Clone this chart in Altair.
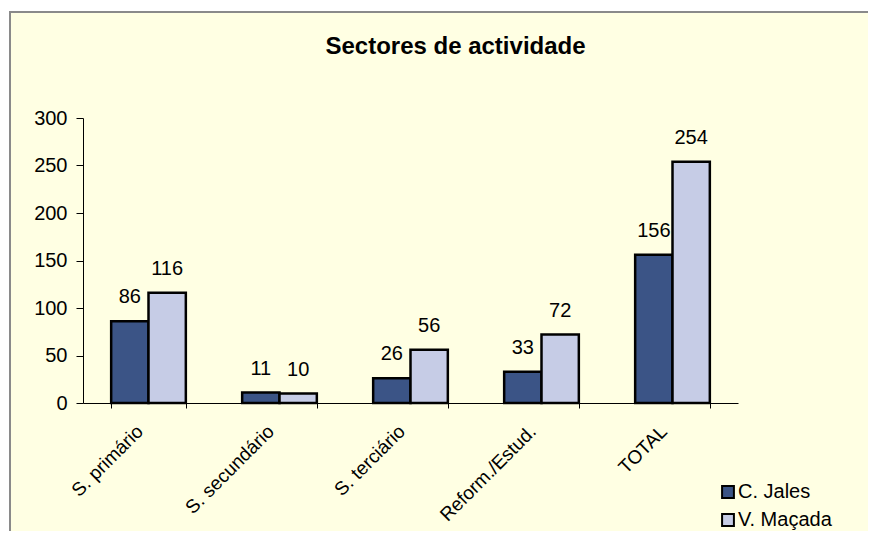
import altair as alt
import pandas as pd

categories = ["S. primário", "S. secundário", "S. terciário", "Reform./Estud.", "TOTAL"]
series = ["C. Jales", "V. Maçada"]
c_jales = [86, 11, 26, 33, 156]
v_macada = [116, 10, 56, 72, 254]
y_ticks = [0, 50, 100, 150, 200, 250, 300]

rows = []
for i, c in enumerate(categories):
    rows.append({"cat": c, "serie": series[0], "val": c_jales[i]})
    rows.append({"cat": c, "serie": series[1], "val": v_macada[i]})
df = pd.DataFrame(rows)

FONT = "Liberation Sans"
color_scale = alt.Scale(domain=series, range=["#3B5486", "#C6CCE6"])

frame = alt.Chart(pd.DataFrame({"a": [0]})).mark_rect(
    fill="#FFFFE3", stroke="#8A8A8A", strokeWidth=2
).encode(
    x=alt.value(-73), x2=alt.value(790), y=alt.value(-106), y2=alt.value(430)
)

xenc = alt.X("cat:N", sort=categories, title=None,
             scale=alt.Scale(paddingInner=0.43, paddingOuter=0.215),
             axis=alt.Axis(labelAngle=-45, labelAlign="right", labelBaseline="middle",
                           labelFontSize=19, labelFont=FONT, labelColor="black",
                           labelPadding=20, labelOffset=-9, tickBand="extent", tickSize=5,
                           zindex=1, domainColor="black", tickColor="black",
                           labelOverlap=False))
yenc = alt.Y("val:Q", title=None,
             scale=alt.Scale(domain=[0, 300], nice=False),
             axis=alt.Axis(values=y_ticks, labelFontSize=20, labelFont=FONT,
                           labelColor="black", grid=False, tickSize=7, zindex=1,
                           domainColor="black", tickColor="black", labelPadding=9))

bars = alt.Chart(df).mark_bar(stroke="black", strokeWidth=2.5).encode(
    x=xenc,
    xOffset=alt.XOffset("serie:N", sort=series, scale=alt.Scale(paddingInner=0)),
    y=yenc,
    color=alt.Color("serie:N", scale=color_scale, sort=series,
                    legend=alt.Legend(title=None, orient="none", legendX=635, legendY=364,
                                      symbolType="square", symbolSize=140,
                                      symbolStrokeColor="black", symbolStrokeWidth=2,
                                      labelFontSize=20, labelFont=FONT, labelColor="black",
                                      rowPadding=8, labelOffset=0)),
)

labels = alt.Chart(df).mark_text(dy=-24, fontSize=20, font=FONT, color="black").encode(
    x=alt.X("cat:N", sort=categories),
    xOffset=alt.XOffset("serie:N", sort=series),
    y="val:Q",
    text="val:Q",
)

chart = alt.layer(frame, bars, labels).properties(
    width=655, height=285,
    autosize=alt.AutoSizeParams(type="none"),
    padding={"left": 75, "top": 110, "right": 130, "bottom": 128},
    background="white",
    title=alt.TitleParams("Sectores de actividade", font=FONT, fontSize=24,
                          fontWeight="bold", color="black", anchor="middle",
                          frame="group", dx=45, offset=-48),
).configure_view(stroke=None)

chart.save("out.html", embed_options={"renderer": "svg", "actions": False})
